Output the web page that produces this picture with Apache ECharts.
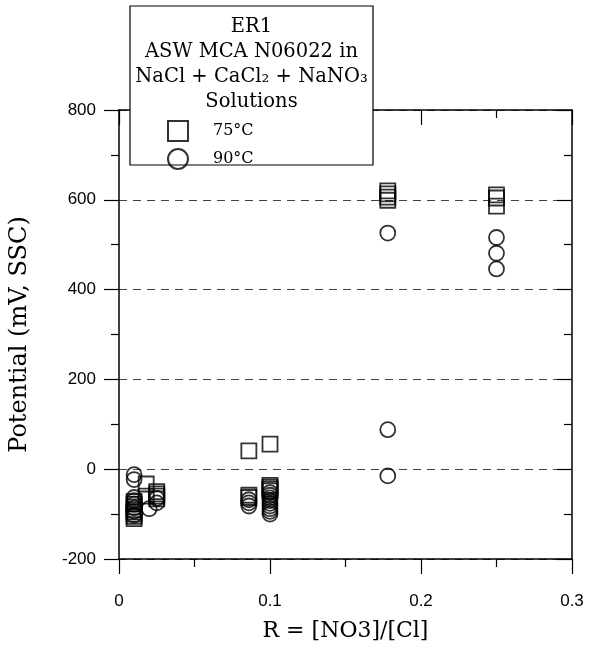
<!DOCTYPE html>
<html lang="en">
<head>
    <meta charset="UTF-8">
    <title>ER1 Potential vs R</title>
    <script src="https://cdn.jsdelivr.net/npm/echarts@6/dist/echarts.min.js"></script>
</head>
<body style="margin:0">
    <div id="chart" style="width: 594px; height: 647px;"></div>
    <script>
        // 75 C data (squares): R value and potential
        const r75 = [0.01, 0.01, 0.01, 0.01, 0.01, 0.01, 0.01, 0.01,
                     0.018, 0.018,
                     0.025, 0.025, 0.025, 0.025,
                     0.086, 0.086, 0.086,
                     0.1, 0.1, 0.1, 0.1, 0.1,
                     0.178, 0.178, 0.178, 0.178,
                     0.25, 0.25, 0.25];
        const e75 = [-72, -78, -84, -90, -95, -100, -105, -110,
                     -33, -60,
                     -50, -55, -60, -66,
                     41, -58, -63,
                     56, -36, -40, -44, -48,
                     620, 613, 606, 599,
                     611, 604, 586];

        // 90 C data (circles)
        const r90 = [0.01, 0.01, 0.01, 0.01, 0.01, 0.01, 0.01, 0.01,
                     0.02,
                     0.025, 0.025,
                     0.086, 0.086, 0.086,
                     0.1, 0.1, 0.1, 0.1, 0.1, 0.1, 0.1, 0.1, 0.1,
                     0.178, 0.178, 0.178,
                     0.25, 0.25, 0.25];
        const e90 = [-12, -23, -63, -70, -78, -86, -94, -102,
                     -88,
                     -65, -75,
                     -68, -75, -82,
                     -52, -58, -64, -70, -76, -82, -88, -94, -100,
                     526, 88, -15,
                     516, 481, 446];

        const legendNames = ['75°C', '90°C'];
        const titleLines = ['ER1', 'ASW MCA N06022 in', 'NaCl + CaCl₂ + NaNO₃', 'Solutions'];

        const zip = (xs, ys) => xs.map((x, i) => [x, ys[i]]);

        const serif = 'DejaVu Serif';
        const sans = 'Liberation Sans';

        var myChart = echarts.init(document.getElementById('chart'));

        const axLine = { onZero: false, lineStyle: { color: '#000', width: 1.5 } };
        const baseX = {
            type: 'value', min: 0, max: 0.3, interval: 0.1,
            axisLine: axLine,
            axisTick: { length: 15, lineStyle: { color: '#000', width: 1.2 } },
            minorTick: { show: true, splitNumber: 2, length: 8, lineStyle: { color: '#000', width: 1.2 } },
            splitLine: { show: false }
        };
        const baseY = {
            type: 'value', min: -200, max: 800, interval: 200,
            axisLine: axLine,
            axisTick: { length: 15, lineStyle: { color: '#000', width: 1.2 } },
            minorTick: { show: true, splitNumber: 2, length: 8, lineStyle: { color: '#000', width: 1.2 } }
        };

        const option = {
            animation: false,
            backgroundColor: '#fff',
            grid: { left: 114, right: 22, top: 110, bottom: 79 },
            xAxis: [
                Object.assign({}, baseX, {
                    position: 'bottom',
                    name: 'R = [NO3]/[Cl]',
                    nameLocation: 'middle',
                    nameGap: 61,
                    nameTextStyle: { fontFamily: serif, fontSize: 22, color: '#000' },
                    axisLabel: { margin: 34, fontFamily: sans, fontSize: 17, color: '#000',
                        formatter: v => String(+v.toFixed(1)) },
                    axisTick: Object.assign({}, baseX.axisTick, { inside: false })
                }),
                Object.assign({}, baseX, {
                    position: 'top',
                    axisLabel: { show: false },
                    axisTick: Object.assign({}, baseX.axisTick, { inside: true })
                })
            ],
            yAxis: [
                Object.assign({}, baseY, {
                    position: 'left',
                    name: 'Potential (mV, SSC)',
                    nameLocation: 'middle',
                    nameGap: 87,
                    nameTextStyle: { fontFamily: serif, fontSize: 24, color: '#000' },
                    axisLabel: { margin: 23, fontFamily: sans, fontSize: 17, color: '#000' },
                    axisTick: Object.assign({}, baseY.axisTick, { inside: false }),
                    splitLine: { show: true, lineStyle: { color: '#444', width: 1.2, type: [8, 6] } }
                }),
                Object.assign({}, baseY, {
                    position: 'right',
                    axisLabel: { show: false },
                    axisTick: Object.assign({}, baseY.axisTick, { inside: true }),
                    splitLine: { show: false }
                })
            ],
            legend: {
                orient: 'vertical',
                left: 162,
                top: 115,
                itemWidth: 20,
                itemHeight: 20,
                itemGap: 6,
                z: 10,
                data: legendNames,
                textStyle: { fontFamily: serif, fontSize: 16, color: '#000', padding: [0, 0, 0, 20] }
            },
            graphic: [
                {
                    type: 'rect', z: 5,
                    shape: { x: 130, y: 6, width: 243, height: 159 },
                    style: { fill: '#fff', stroke: '#000', lineWidth: 1.2 }
                },
                {
                    type: 'text', z: 6,
                    x: 251.5, y: 14,
                    style: {
                        text: titleLines.join('\n'),
                        fontFamily: serif, fontSize: 19.5, lineHeight: 25,
                        fill: '#000', textAlign: 'center', textVerticalAlign: 'top'
                    }
                }
            ],
            series: [
                {
                    name: legendNames[0], type: 'scatter', symbol: 'rect', symbolSize: 15,
                    itemStyle: { color: 'rgba(0,0,0,0)', borderColor: '#000', borderWidth: 1.8 },
                    data: zip(r75, e75)
                },
                {
                    name: legendNames[1], type: 'scatter', symbol: 'circle', symbolSize: 15,
                    itemStyle: { color: 'rgba(0,0,0,0)', borderColor: '#000', borderWidth: 1.8 },
                    data: zip(r90, e90)
                }
            ]
        };

        myChart.setOption(option);
    </script>
</body>
</html>
